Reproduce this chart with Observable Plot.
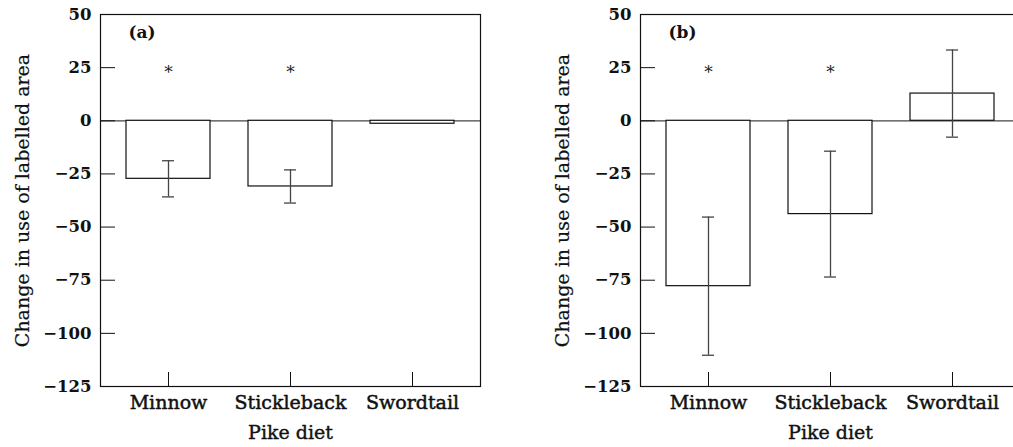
<!DOCTYPE html>
<html>
<head>
<meta charset="utf-8">
<script src="https://cdn.jsdelivr.net/npm/d3@7"></script>
<script src="https://cdn.jsdelivr.net/npm/@observablehq/plot@0.6"></script>
<style>
  html, body { margin: 0; padding: 0; background: #fff; overflow: hidden; }
  #wrap { display: flex; flex-wrap: nowrap; width: 1100px; }
  #wrap > svg, #wrap > figure { flex: 0 0 auto; margin: 0; }
</style>
</head>
<body>
<div id="wrap"></div>
<script>
// ---- data ----
const categories = ["Minnow", "Stickleback", "Swordtail"];
const panelLabels = ["(a)", "(b)"];
const meanA = [-27.3, -30.9, -1.4];
const seA = [8.5, 7.8, 0];
const meanB = [-77.8, -43.9, 12.8];
const seB = [32.5, 29.6, 20.5];
const sigA = ["*", "*", ""];
const sigB = ["*", "*", ""];
const yTicks = [50, 25, 0, -25, -50, -75, -100, -125];
const yTitle = "Change in use of labelled area";
const xTitle = "Pike diet";

const FONT = "'DejaVu Serif', serif";

function panel(label, means, ses, sig) {
  const rows = categories.map((c, i) => ({cat: c, mean: means[i], se: ses[i], sig: sig[i]}));
  const errRows = rows.filter(d => d.se > 0);
  return Plot.plot({
    width: 540,
    height: 447,
    marginLeft: 100,
    marginRight: 60,
    marginTop: 14,
    marginBottom: 61,
    style: {fontFamily: FONT, fontSize: "16px", color: "#111", background: "white"},
    x: {domain: categories, paddingInner: 0.31, paddingOuter: 0.2, label: null},
    y: {domain: [-125, 50], label: null},
    marks: [
      Plot.ruleY([0], {stroke: "#444", strokeWidth: 1.2}),
      Plot.barY(rows, {x: "cat", y: "mean", fill: "white", stroke: "#111", strokeWidth: 1.2}),
      Plot.ruleX(errRows, {x: "cat", y1: d => d.mean - d.se, y2: d => d.mean + d.se, stroke: "#444", strokeWidth: 1.3}),
      Plot.tickY(errRows, {x: "cat", y: d => d.mean - d.se, stroke: "#444", strokeWidth: 1.3, inset: 36}),
      Plot.tickY(errRows, {x: "cat", y: d => d.mean + d.se, stroke: "#444", strokeWidth: 1.3, inset: 36}),
      Plot.text(rows, {x: "cat", text: "sig", frameAnchor: "top", dy: 58, lineAnchor: "middle", fontSize: 17, fill: "#222"}),
      Plot.text([label], {frameAnchor: "top-left", textAnchor: "start", lineAnchor: "middle", dx: 28, dy: 18, fontSize: 17, fontWeight: "bold", fill: "#111"}),
      // y ticks drawn inward
      Plot.axisY(yTicks, {anchor: "left", tickSize: 15, insetLeft: 15, fill: "none", label: null, stroke: "#111"}),
      Plot.axisY(yTicks, {anchor: "left", tickSize: 0, tickPadding: 9, label: null, fontWeight: "bold", fontSize: 16.5, fill: "#111"}),
      // x ticks drawn inward
      Plot.axisX({anchor: "bottom", tickSize: 14, insetBottom: 14, fill: "none", label: null, stroke: "#111"}),
      Plot.axisX({anchor: "bottom", tickSize: 0, tickPadding: 9, label: null, fontSize: 19, fill: "#111", textStroke: "#111", textStrokeWidth: 0.5}),
      Plot.text([yTitle], {frameAnchor: "left", rotate: -90, dx: -78, textAnchor: "middle", lineAnchor: "middle", fontSize: 19, fill: "#111", stroke: "#111", strokeWidth: 0.2}),
      Plot.text([xTitle], {frameAnchor: "bottom", dy: 46, textAnchor: "middle", lineAnchor: "middle", fontSize: 19, fill: "#111", stroke: "#111", strokeWidth: 0.4}),
      Plot.frame({stroke: "#111", strokeWidth: 1.2})
    ]
  });
}

const wrap = document.getElementById("wrap");
wrap.appendChild(panel(panelLabels[0], meanA, seA, sigA));
wrap.appendChild(panel(panelLabels[1], meanB, seB, sigB));
</script>
</body>
</html>
